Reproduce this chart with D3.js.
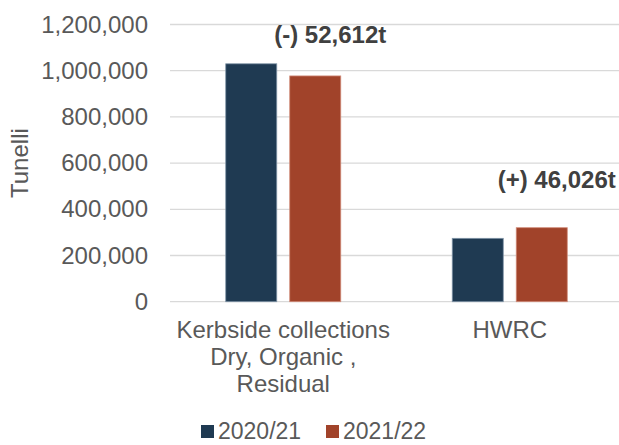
<!DOCTYPE html>
<html>
<head>
<meta charset="utf-8">
<script src="https://cdn.jsdelivr.net/npm/d3@7"></script>
<style>
  html, body { margin: 0; padding: 0; background: #fff; }
  svg { display: block; font-family: "Liberation Sans", Arial, sans-serif; }
</style>
</head>
<body>
<div id="chart"></div>
<script>
// data
const categories = ['Kerbside collections|Dry, Organic ,|Residual', 'HWRC'];
const seriesNames = ['2020/21', '2021/22'];
const values2020 = [1029900, 274300];
const values2021 = [977288, 320326];
const colors = ['#1f3a52', '#a1432a'];
const yTicks = [0, 200000, 400000, 600000, 800000, 1000000, 1200000];
const diffLabels = ['(-) 52,612t', '(+) 46,026t'];
const diffLabelY = [1120000, 492000];

const width = 619;
const height = 445;
const MARGIN_LEFT = 170;
const PLOT_RIGHT = 623;
const PLOT_TOP = 24.5;
const PLOT_BOTTOM = 301.7;

const $svg = d3.select('#chart').append('svg')
  .attr('width', width)
  .attr('height', height);

// scales
const x0 = d3.scaleBand()
  .domain(categories)
  .range([MARGIN_LEFT, PLOT_RIGHT])
  .padding(0);

const x1 = d3.scaleBand()
  .domain(seriesNames)
  .range([0, x0.bandwidth()])
  .paddingInner(0.203)
  .paddingOuter(0.871);

const y = d3.scaleLinear()
  .domain([0, 1200000])
  .range([PLOT_BOTTOM, PLOT_TOP]);

// gridlines
$svg.append('g')
  .attr('class', 'grid')
  .selectAll('line')
  .data(yTicks)
  .join('line')
  .attr('x1', MARGIN_LEFT)
  .attr('x2', PLOT_RIGHT)
  .attr('y1', d => y(d))
  .attr('y2', d => y(d))
  .attr('stroke', '#d9d9d9')
  .attr('stroke-width', 1.3);

// y axis
const yAxis = d3.axisLeft(y)
  .tickValues(yTicks)
  .tickSize(0)
  .tickPadding(22)
  .tickFormat(d3.format(','));

$svg.append('g')
  .attr('transform', `translate(${MARGIN_LEFT},0)`)
  .call(yAxis)
  .call(g => g.select('.domain').remove())
  .selectAll('text')
  .attr('font-size', 24)
  .attr('fill', '#595959')
  .attr('font-family', '"Liberation Sans", Arial, sans-serif');

// y title
$svg.append('text')
  .attr('transform', `translate(28,${(PLOT_TOP + PLOT_BOTTOM) / 2}) rotate(-90)`)
  .attr('text-anchor', 'middle')
  .attr('font-size', 24)
  .attr('fill', '#595959')
  .text('Tunelli');

// bars
const rows = categories.map((c, i) => ({ cat: c, vals: [values2020[i], values2021[i]] }));

const $groups = $svg.append('g')
  .selectAll('g')
  .data(rows)
  .join('g')
  .attr('transform', d => `translate(${x0(d.cat)},0)`);

$groups.selectAll('rect')
  .data(d => d.vals.map((v, j) => ({ key: seriesNames[j], value: v, j })))
  .join('rect')
  .attr('x', d => x1(d.key))
  .attr('width', x1.bandwidth())
  .attr('y', d => y(d.value))
  .attr('height', d => y(0) - y(d.value))
  .attr('fill', d => colors[d.j])
  .attr('stroke', d => d.j === 0 ? '#7f93a6' : '#d08a78')
  .attr('stroke-width', 0.8);

// difference labels
$svg.append('g')
  .selectAll('text')
  .data(categories)
  .join('text')
  .attr('x', (d, i) => x0(d) + x1(seriesNames[1]) + x1.bandwidth() / 2 + 15)
  .attr('y', (d, i) => y(diffLabelY[i]))
  .attr('text-anchor', 'middle')
  .attr('font-size', 24)
  .attr('font-weight', 'bold')
  .attr('fill', '#404040')
  .text((d, i) => diffLabels[i]);

// category labels
$svg.append('g')
  .selectAll('text')
  .data(categories)
  .join('text')
  .attr('x', d => x0(d) + x0.bandwidth() / 2)
  .attr('y', 338)
  .attr('text-anchor', 'middle')
  .attr('font-size', 24)
  .attr('fill', '#595959')
  .each(function (d) {
    const t = d3.select(this);
    d.split('|').forEach((line, k) => {
      t.append('tspan')
        .attr('x', t.attr('x'))
        .attr('y', 338 + k * 27)
        .text(line);
    });
  });

// legend
const legendX = [201, 326];
const $legend = $svg.append('g')
  .selectAll('g')
  .data(seriesNames)
  .join('g')
  .attr('transform', (d, i) => `translate(${legendX[i]},425)`);

$legend.append('rect')
  .attr('width', 13)
  .attr('height', 13)
  .attr('fill', (d, i) => colors[i]);

$legend.append('text')
  .attr('x', 17)
  .attr('y', 13.5)
  .attr('font-size', 23)
  .attr('fill', '#595959')
  .text(d => d);
</script>
</body>
</html>
